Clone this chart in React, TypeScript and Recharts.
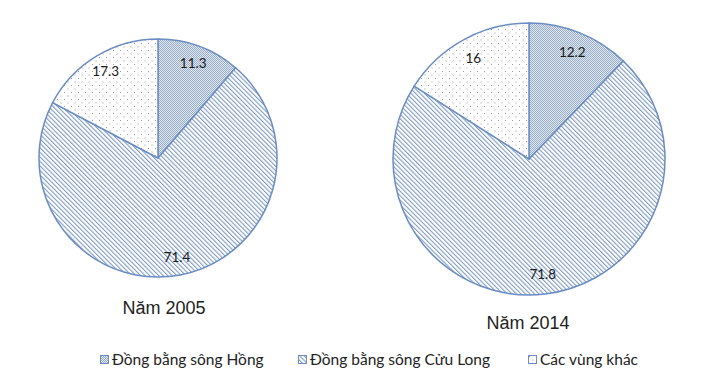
import React from "react";
import { PieChart, Pie, Cell, Legend } from "recharts";

const regions = ["Đồng bằng sông Hồng", "Đồng bằng sông Cửu Long", "Các vùng khác"];
const values2005 = [11.3, 71.4, 17.3];
const values2014 = [12.2, 71.8, 16];
const years = ["Năm 2005", "Năm 2014"];

const patternIds = ["patHong", "patCuuLong", "patKhac"];
const STROKE = "#6b8dc2";
const legendX = [100, 298, 528];

const data2005 = regions.map((name, i) => ({ name, value: values2005[i] }));
const data2014 = regions.map((name, i) => ({ name, value: values2014[i] }));

const RAD = Math.PI / 180;
const renderLabel = (props: any) => {
  const { cx, cy, midAngle, outerRadius, value } = props;
  const r = outerRadius * 0.85;
  const x = cx + r * Math.cos(-midAngle * RAD);
  const y = cy + r * Math.sin(-midAngle * RAD);
  return (
    <text
      x={x}
      y={y}
      textAnchor="middle"
      dominantBaseline="central"
      fontFamily="Lato, 'Open Sans', sans-serif"
      fontSize={13.5}
      fill="#1a1a1a"
    >
      {value}
    </text>
  );
};

const LegendContent = () => (
  <div
    style={{
      position: "relative",
      width: 725,
      height: 22,
      fontFamily: "Lato, 'Open Sans', sans-serif",
      fontSize: 15.5,
      color: "#222",
    }}
  >
    {regions.map((name, i) => (
      <div
        key={name}
        style={{
          position: "absolute",
          left: legendX[i],
          top: 0,
          display: "flex",
          alignItems: "center",
          whiteSpace: "nowrap",
        }}
      >
        <svg width={9} height={9} style={{ marginRight: 3 }}>
          <rect x={0.5} y={0.5} width={8} height={8} fill={`url(#${patternIds[i]})`} stroke={STROKE} strokeWidth={1} />
        </svg>
        <span>{name}</span>
      </div>
    ))}
  </div>
);

export default function App() {
  return (
    <div style={{ position: "absolute", left: 0, top: 0, width: 725, height: 383, background: "#fff" }}>
      <svg width={0} height={0} style={{ position: "absolute" }}>
        <defs>
          <pattern id="patHong" width={2} height={2} patternUnits="userSpaceOnUse">
            <rect width={2} height={2} fill="#dfe6ee" />
            <rect x={0} y={0} width={1} height={1} fill="#98aec9" />
            <rect x={1} y={1} width={1} height={1} fill="#98aec9" />
          </pattern>
          <pattern
            id="patCuuLong"
            width={3.2}
            height={3.2}
            patternUnits="userSpaceOnUse"
            patternTransform="rotate(-45)"
          >
            <rect width={3.2} height={3.2} fill="#ffffff" />
            <rect x={0} y={0} width={1.1} height={3.2} fill="#7f9cc6" />
          </pattern>
          <pattern id="patKhac" width={7} height={7} patternUnits="userSpaceOnUse">
            <rect width={7} height={7} fill="#ffffff" />
            <rect x={1} y={1} width={1} height={1} fill="#9a9a9a" />
            <rect x={4.5} y={4.5} width={1} height={1} fill="#9a9a9a" />
          </pattern>
        </defs>
      </svg>
      <PieChart width={725} height={383} margin={{ top: 0, right: 0, bottom: 0, left: 0 }}>
        <Pie
          data={data2005}
          dataKey="value"
          nameKey="name"
          cx={158}
          cy={158}
          outerRadius={119}
          startAngle={90}
          endAngle={-270}
          stroke={STROKE}
          strokeWidth={1.5}
          label={renderLabel}
          labelLine={false}
          isAnimationActive={false}
        >
          {data2005.map((d, i) => (
            <Cell key={d.name} fill={`url(#${patternIds[i]})`} />
          ))}
        </Pie>
        <Pie
          data={data2014}
          dataKey="value"
          nameKey="name"
          cx={529}
          cy={159}
          outerRadius={136}
          startAngle={90}
          endAngle={-270}
          stroke={STROKE}
          strokeWidth={1.5}
          label={renderLabel}
          labelLine={false}
          isAnimationActive={false}
        >
          {data2014.map((d, i) => (
            <Cell key={d.name} fill={`url(#${patternIds[i]})`} />
          ))}
        </Pie>
        <Legend
          content={<LegendContent />}
          wrapperStyle={{ position: "absolute", left: 0, top: 350, width: 725, height: 22 }}
        />
      </PieChart>
      <div
        style={{
          position: "absolute",
          left: 164 - 70,
          width: 140,
          top: 298,
          textAlign: "center",
          fontFamily: "'Liberation Sans', Arial, sans-serif",
          fontSize: 18,
          color: "#222",
        }}
      >
        {years[0]}
      </div>
      <div
        style={{
          position: "absolute",
          left: 528 - 70,
          width: 140,
          top: 313,
          textAlign: "center",
          fontFamily: "'Liberation Sans', Arial, sans-serif",
          fontSize: 18,
          color: "#222",
        }}
      >
        {years[1]}
      </div>
    </div>
  );
}
